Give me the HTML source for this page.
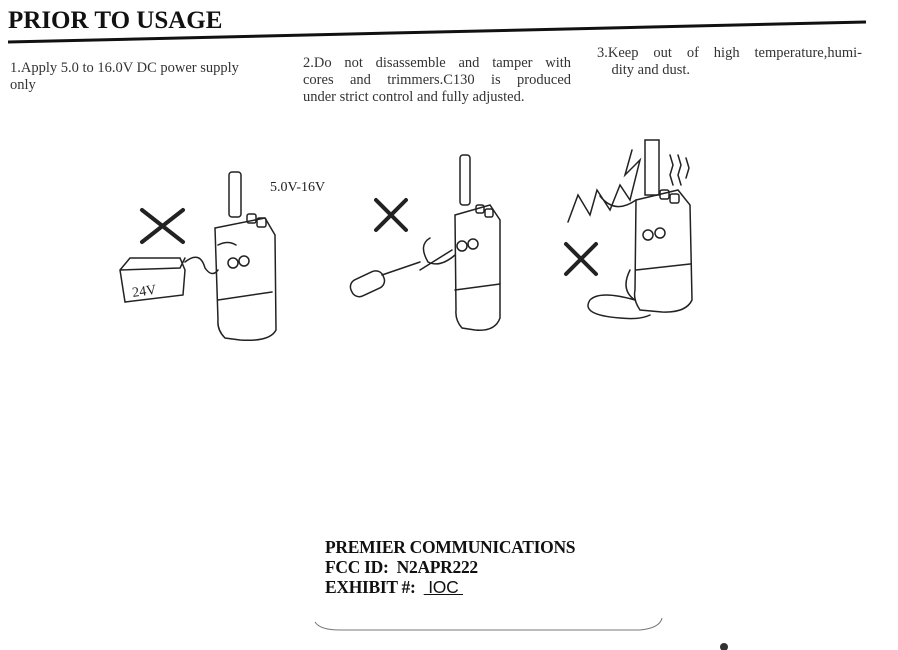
<!DOCTYPE html>
<html><head><meta charset="utf-8"><style>
body{margin:0;width:898px;height:650px;background:#fff;overflow:hidden;font-family:"Liberation Serif",serif;color:#222;position:relative}
.t{position:absolute;font-size:14.5px;line-height:17px;color:#333}
.j{text-align:justify;text-align-last:justify;white-space:nowrap}
.j div{text-align-last:justify}
</style></head><body>
<div style="position:absolute;left:8px;top:7px;font-size:25px;font-weight:bold;color:#111">PRIOR TO USAGE</div>
<svg width="898" height="650" style="position:absolute;left:0;top:0">
<line x1="8" y1="42" x2="866" y2="22" stroke="#111" stroke-width="3"/>
<g fill="none" stroke="#222" stroke-width="1.5" stroke-linecap="round">
<rect x="229" y="172" width="12" height="45" rx="3"/>
<path d="M215 228 L265 218 L275 235 L276 330 Q270 342 240 340 L225 338 Q217 330 218 320 Z"/>
<rect x="247" y="214" width="9" height="9" rx="2"/><rect x="257" y="218" width="9" height="9" rx="2"/>
<circle cx="233" cy="263" r="5"/><circle cx="244" cy="261" r="5"/>
<path d="M218 300 L272 292 M218 245 Q228 240 236 245"/>
<path d="M185 262 Q200 250 205 268 Q212 278 218 270"/>
<path d="M120 270 L130 258 L180 258 L185 270 L183 295 L125 302 Z M120 270 L180 268 L185 258"/>
<text x="132" y="296" font-size="14" fill="#222" stroke="none" transform="rotate(-8 140 290)">24V</text>
<path d="M142 210 L183 242 M183 210 L142 242" stroke-width="4"/>
<path d="M376 200 L406 230 M406 200 L376 230" stroke-width="4"/>
<path d="M566 244 L596 274 M596 244 L566 274" stroke-width="4"/>
<rect x="460" y="155" width="10" height="50" rx="3"/>
<path d="M455 215 L490 205 L500 220 L500 318 Q495 332 475 330 L462 328 Q455 320 456 310 Z"/>
<rect x="476" y="205" width="8" height="8" rx="2"/><rect x="485" y="209" width="8" height="8" rx="2"/>
<circle cx="462" cy="246" r="5"/><circle cx="473" cy="244" r="5"/>
<path d="M455 290 L500 284"/>
<path d="M420 270 L452 250 M430 238 Q418 245 428 262 Q440 268 455 255"/>
<rect x="350" y="275" width="35" height="18" rx="8" transform="rotate(-25 367 284)"/>
<line x1="382" y1="275" x2="420" y2="262"/>
<rect x="645" y="140" width="14" height="55"/>
<path d="M636 200 L678 190 L690 205 L692 300 Q686 313 662 312 L640 310 Q633 300 635 290 Z"/>
<rect x="660" y="190" width="9" height="9" rx="2"/><rect x="670" y="194" width="9" height="9" rx="2"/>
<circle cx="648" cy="235" r="5"/><circle cx="660" cy="233" r="5"/>
<path d="M636 270 L690 264 M670 155 l3 10 l-3 10 l3 10 M678 155 l3 10 l-3 10 l3 10 M686 158 l3 10 l-3 10"/>
<path d="M568 222 L578 195 L590 215 L597 190 L610 210 L620 185 L630 200 L640 160 L625 175 L632 150 M600 196 Q615 215 636 200"/>
<path d="M630 270 Q620 290 635 300 Q600 290 590 300 Q580 315 620 318 Q640 320 650 315"/>
</g>
</svg>
<div style="position:absolute;left:270px;top:180px;font-size:14px;color:#222">5.0V-16V</div>
<div class="t" style="left:10px;top:60px;width:262px">1.Apply 5.0 to 16.0V DC power supply<br>only</div>
<div class="t" style="left:303px;top:55px;width:268px"><div class="j"><div>2.Do not disassemble and tamper with</div><div>cores and trimmers.C130 is produced</div></div>under strict control and fully adjusted.</div>
<div class="t" style="left:597px;top:45px;width:265px"><div class="j"><div>3.Keep out of high temperature,humi-</div></div>&nbsp;&nbsp;&nbsp;&nbsp;dity and dust.</div>
<div style="position:absolute;left:325px;top:537px;font-size:17.5px;font-weight:bold;line-height:20px;color:#111;letter-spacing:-0.3px">PREMIER COMMUNICATIONS<br>FCC ID:&nbsp; N2APR222<br>EXHIBIT #:&nbsp; <span style="font-weight:normal;font-family:'Liberation Sans',sans-serif;text-decoration:underline">&nbsp;IOC&nbsp;</span></div>
<svg width="898" height="650" style="position:absolute;left:0;top:0">
<path d="M315 622 Q320 630 340 630 L640 630 Q660 628 662 618" fill="none" stroke="#777" stroke-width="1"/>
<circle cx="724" cy="647" r="4" fill="#333"/>
</svg>
</body></html>
